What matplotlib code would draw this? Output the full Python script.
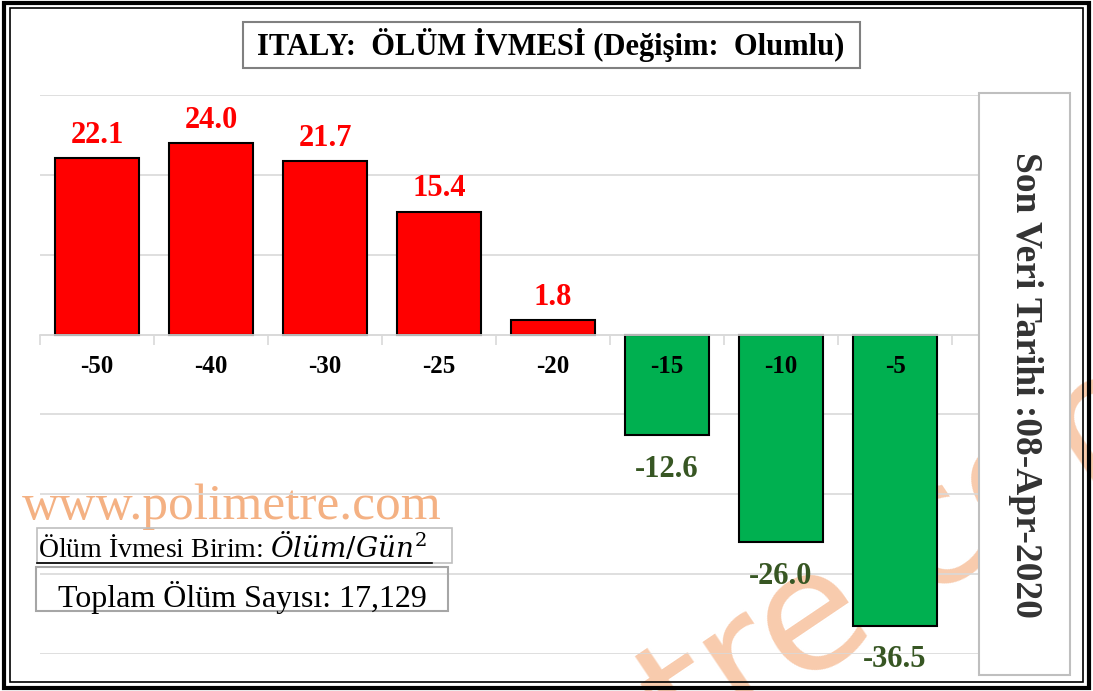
import numpy as np
import matplotlib
matplotlib.use("Agg")
import matplotlib.pyplot as plt
from matplotlib.patches import Rectangle
from matplotlib.lines import Line2D

# data
days = ["-50", "-40", "-30", "-25", "-20", "-15", "-10", "-5"]
accel = [22.1, 24.0, 21.7, 15.4, 1.8, -12.6, -26.0, -36.5]
grid_vals = [-40, -30, -20, -10, 0, 10, 20, 30]

title = "ITALY:  ÖLÜM İVMESİ (Değişim:  Olumlu)"
date_text = "Son Veri Tarihi :08-Apr-2020"
unit_text = "Ölüm İvmesi Birim: $Ölüm/Gün^2$"
total_text = "Toplam Ölüm Sayısı: 17,129"

plt.rcParams['font.family'] = ['Liberation Serif', 'DejaVu Serif']
plt.rcParams['mathtext.fontset'] = 'custom'
plt.rcParams['mathtext.rm'] = 'DejaVu Serif'
plt.rcParams['mathtext.it'] = 'DejaVu Serif:italic'

W, H = 1093, 691
fig = plt.figure(figsize=(W / 100, H / 100), dpi=100)


def fx(x):
    return x / W


def fy(y):
    return 1 - y / H


def box(x0, y0, x1, y1, ec, lw, fc='none', z=1):
    r = Rectangle((fx(x0), fy(y1)), fx(x1) - fx(x0), fy(y0) - fy(y1),
                  transform=fig.transFigure, fill=(fc != 'none'), fc=fc,
                  ec=ec, lw=lw, zorder=z)
    fig.add_artist(r)


# axes: 9 category slots, the last one sits under the date box
ax = fig.add_axes([fx(40), fy(654), fx(1066) - fx(40), fy(95) - fy(654)])
ax.set_facecolor('none')
x = np.arange(len(days))
colors = ['#FF0000' if v > 0 else '#00B050' for v in accel]
ax.bar(x, accel, width=0.74, color=colors, edgecolor='black', linewidth=1.5, zorder=1)

ax.set_xlim(-0.5, 8.5)
ax.set_ylim(-40, 30)
ax.set_yticks(grid_vals)
ax.yaxis.grid(True, color='#D9D9D9', linewidth=1.2)
ax.yaxis.set_zorder(0.5)
ax.tick_params(axis='y', length=0, labelleft=False)

for s in ['left', 'right', 'top']:
    ax.spines[s].set_visible(False)
ax.spines['bottom'].set_position(('data', 0))
ax.spines['bottom'].set_color('#D9D9D9')
ax.spines['bottom'].set_linewidth(1.2)
ax.spines['bottom'].set_zorder(2.5)

ax.set_xticks(x)
ax.set_xticklabels(days, fontsize=18, fontweight='bold')
ax.set_xticks(np.arange(-0.5, 9, 1), minor=True)
ax.tick_params(axis='x', which='major', length=0, pad=15)
ax.tick_params(axis='x', which='minor', length=7, width=1.2, color='#D9D9D9')

for xi, v in zip(x, accel):
    if v > 0:
        ax.annotate(f"{v:.1f}", (xi, v), xytext=(0, 6), textcoords='offset points',
                    ha='center', va='bottom', fontsize=22, fontweight='bold',
                    color='#FF0000', annotation_clip=False)
    else:
        ax.annotate(f"{v:.1f}", (xi, v), xytext=(0, -14), textcoords='offset points',
                    ha='center', va='top', fontsize=22, fontweight='bold',
                    color='#375623', annotation_clip=False)

# watermarks (behind everything)
fig.text(fx(22), fy(519), "www.polimetre.com", fontsize=37, color='#F4B183',
         zorder=-5)
fig.text(fx(687), fy(760), "tre.com", fontsize=120, color='#F8CBAD',
         family='DejaVu Sans', rotation=34, rotation_mode='anchor',
         ha='left', va='baseline', zorder=-5)

# title box
box(243, 22, 860, 68, '#808080', 1.5, fc='white', z=2)
fig.text(fx(551), fy(45), title, fontsize=22, fontweight='bold',
         ha='center', va='center', zorder=3)

# date box on the right
box(979, 93, 1070, 675, '#BFBFBF', 1.5, fc='white', z=2)
fig.text(fx(1025), fy(385), date_text, fontsize=27, fontweight='bold',
         color='#333333', rotation=-90, ha='center', va='center', zorder=3)

# unit box and total box
box(37, 528, 452, 563, '#BFBFBF', 1.2, z=2)
fig.text(fx(38), fy(557), unit_text, fontsize=20, ha='left', va='baseline', zorder=3)
fig.add_artist(Line2D([fx(37), fx(432)], [fy(563), fy(563)],
                      transform=fig.transFigure, color='black', lw=1.2, zorder=3))
box(36, 567, 448, 611, '#A6A6A6', 1.5, z=2)
fig.text(fx(242), fy(597), total_text, fontsize=23, ha='center', va='center', zorder=3)

# double outer frame
box(4, 3, 1089, 688, 'black', 3.0, z=4)
box(10, 8, 1083, 682, 'black', 1.2, z=4)

fig.savefig("out.png", dpi=100)
